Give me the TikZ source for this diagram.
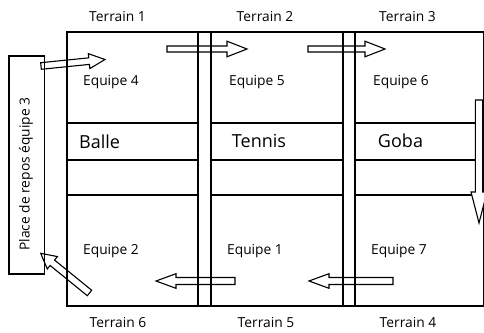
\documentclass[tikz,border=0pt]{standalone}
\usepackage{fontspec}
\setmainfont{Open Sans}
\usetikzlibrary{calc}

\tikzset{
  frame/.style={draw, line width=1.2pt},
  blk/.style={draw, line width=1.1pt, fill=white, line join=miter},
  lbl/.style={font=\fontsize{13.8}{16}\selectfont, inner sep=0pt, anchor=base},
  big/.style={font=\fontsize{18}{21}\selectfont, inner sep=0pt, anchor=base},
}

% #1 tail coordinate, #2 tip coordinate, #3 shaft half width, #4 head half width, #5 head length
\newcommand\blockarrow[5]{%
  \coordinate (#1hb) at ($(#2)!#5!(#1)$);
  \draw[blk] ($(#1)!#3!90:(#2)$) -- ($(#1hb)!#3!90:(#2)$) -- ($(#1hb)!#4!90:(#2)$)
    -- (#2) -- ($(#1hb)!#4!-90:(#2)$) -- ($(#1hb)!#3!-90:(#2)$)
    -- ($(#1)!#3!-90:(#2)$) -- cycle;
}

\begin{document}
\begin{tikzpicture}[x=1pt,y=-1pt]
\useasboundingbox (0,0) rectangle (484,332);

% arrow end points
\coordinate (a1t) at (41,66);    \coordinate (a1h) at (105,59.5);
\coordinate (a2t) at (167,49);   \coordinate (a2h) at (247,49);
\coordinate (a3t) at (308,49);   \coordinate (a3h) at (385,49);
\coordinate (a4t) at (479,100);  \coordinate (a4h) at (479,223);
\coordinate (a5t) at (393,281);  \coordinate (a5h) at (309,281);
\coordinate (a6t) at (235,281);  \coordinate (a6h) at (156,281);
\coordinate (a7t) at (89.5,293); \coordinate (a7h) at (40.7,253.3);

% arrows under the lines
\blockarrow{a1t}{a1h}{3.3pt}{7.5pt}{16pt}
\blockarrow{a2t}{a2h}{3pt}{7.8pt}{20pt}
\blockarrow{a3t}{a3h}{3pt}{7.8pt}{20pt}
\blockarrow{a5t}{a5h}{3.5pt}{7.3pt}{20pt}
\blockarrow{a6t}{a6h}{3.5pt}{7.3pt}{20pt}
\blockarrow{a7t}{a7h}{3.5pt}{8pt}{15pt}

% field outline and rest place
\draw[frame] (67,32) rectangle (484,306);
\draw[frame] (9,56) rectangle (44.5,274);

% horizontal lines of the middle band
\foreach \y in {123,160,195} {
  \draw[frame] (67,\y) -- (198,\y);
  \draw[frame] (211,\y) -- (343,\y);
  \draw[frame] (355,\y) -- (484,\y);
}

% vertical double lines
\foreach \x in {198,211,343,355} {
  \draw[frame] (\x,32) -- (\x,306);
}

% vertical arrow over the lines
\blockarrow{a4t}{a4h}{3.7pt}{8pt}{31pt}

% labels
\node[lbl] (t1) at (117.5,21.5) {Terrain 1};
\node[lbl] (t2) at (265,21.5) {Terrain 2};
\node[lbl] (t3) at (407.5,21.5) {Terrain 3};
\node[lbl] (t6) at (118,327) {Terrain 6};
\node[lbl] (t5) at (266,327) {Terrain 5};
\node[lbl] (t4) at (408,327) {Terrain 4};

\node[lbl] (e4) at (111,85) {Equipe 4};
\node[lbl] (e5) at (257,85) {Equipe 5};
\node[lbl] (e6) at (401,85) {Equipe 6};
\node[lbl] (e2) at (111,254) {Equipe 2};
\node[lbl] (e1) at (255,254) {Equipe 1};
\node[lbl] (e7) at (399,254) {Equipe 7};

\node[big, anchor=base west] (balle) at (79,148) {Balle};
\node[big] (tennis) at (259,147.5) {Tennis};
\node[big] (goba) at (400.5,147.5) {Goba};

\node[lbl, rotate=90] (rest) at (29.5,174) {Place de repos équipe 3};
\end{tikzpicture}
\end{document}
